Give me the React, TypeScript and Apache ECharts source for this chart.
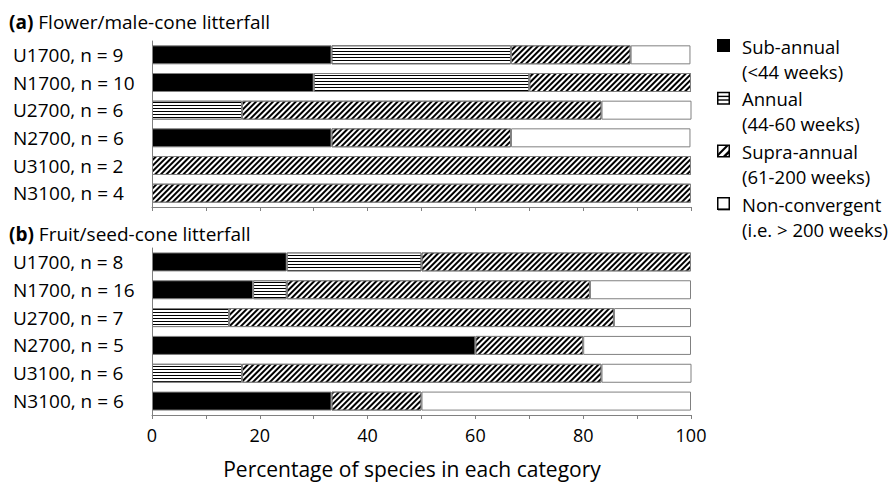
import React, { useEffect, useRef } from 'react';
import * as echarts from 'echarts';

const categoriesA = ['U1700, n = 9', 'N1700, n = 10', 'U2700, n = 6', 'N2700, n = 6', 'U3100, n = 2', 'N3100, n = 4'];
const categoriesB = ['U1700, n = 8', 'N1700, n = 16', 'U2700, n = 7', 'N2700, n = 5', 'U3100, n = 6', 'N3100, n = 6'];
const seriesNames = ['Sub-annual', 'Annual', 'Supra-annual', 'Non-convergent'];
const legendSub = ['(<44 weeks)', '(44-60 weeks)', '(61-200 weeks)', '(i.e. > 200 weeks)'];
const subA = [33.3, 30, 0, 33.3, 0, 0];
const annA = [33.3, 40, 16.7, 0, 0, 0];
const supA = [22.2, 30, 66.7, 33.3, 100, 100];
const nonA = [11.1, 0, 16.7, 33.3, 0, 0];
const subB = [25, 18.75, 0, 60, 0, 33.3];
const annB = [25, 6.25, 14.3, 0, 16.7, 0];
const supB = [50, 56.25, 71.4, 20, 66.7, 16.7];
const nonB = [0, 18.75, 14.3, 20, 16.7, 50];
const xTickLabels = [0, 20, 40, 60, 80, 100];
const titleA = 'Flower/male-cone litterfall';
const titleB = 'Fruit/seed-cone litterfall';
const xTitle = 'Percentage of species in each category';

const FONT = 'Open Sans';
const BORDER = '#808080';

const styles = [
  { color: '#000' },
  {
    color: '#fff',
    decal: { symbol: 'rect', symbolSize: 1, dashArrayX: [1, 0], dashArrayY: [1, 1.3], rotation: 0, color: '#000' },
  },
  {
    color: '#fff',
    decal: { symbol: 'rect', symbolSize: 1, dashArrayX: [1, 0], dashArrayY: [1.4, 1.7], rotation: -Math.PI / 4, color: '#000' },
  },
  { color: '#fff' },
];

export default function App() {
  const ref = useRef<HTMLDivElement>(null);
  useEffect(() => {
    if (!ref.current) return;
    const chart = echarts.init(ref.current, undefined, { renderer: 'svg' });
    const dataA = [subA, annA, supA, nonA];
    const dataB = [subB, annB, supB, nonB];
    const mk = (arr: number[][], idx: number, stack: string) =>
      arr.map((d, i) => ({
        name: seriesNames[i],
        type: 'bar',
        stack,
        xAxisIndex: idx,
        yAxisIndex: idx,
        barWidth: 19,
        data: d.map((v) => (v === 0 ? null : v)),
        itemStyle: { ...styles[i], borderColor: BORDER, borderWidth: 1 },
      }));

    const legendGraphics: any[] = [];
    const lx = 717;
    const ly0 = 39;
    const dy = 52.7;
    for (let i = 0; i < 4; i++) {
      const y = ly0 + i * dy;
      const children: any[] = [];
      const s = 13;
      if (i === 0) {
        children.push({ type: 'rect', shape: { x: 0, y: 0, width: s, height: s }, style: { fill: '#000' } });
      } else if (i === 1) {
        children.push({ type: 'rect', shape: { x: 0.75, y: 0.75, width: s - 1.5, height: s - 1.5 }, style: { fill: '#fff', stroke: '#000', lineWidth: 1.5 } });
        children.push({ type: 'line', shape: { x1: 1, y1: 4.7, x2: s - 1, y2: 4.7 }, style: { stroke: '#000', lineWidth: 1.4 } });
        children.push({ type: 'line', shape: { x1: 1, y1: 8.3, x2: s - 1, y2: 8.3 }, style: { stroke: '#000', lineWidth: 1.4 } });
      } else if (i === 2) {
        children.push({ type: 'rect', shape: { x: 0.75, y: 0.75, width: s - 1.5, height: s - 1.5 }, style: { fill: '#fff', stroke: '#000', lineWidth: 1.5 } });
        children.push({ type: 'polygon', shape: { points: [[1, 9], [9, 1], [12, 1], [1, 12]] }, style: { fill: '#000' } });
        children.push({ type: 'polygon', shape: { points: [[12, 5.5], [12, 9], [9, 12], [5.5, 12]] }, style: { fill: '#000' } });
      } else {
        children.push({ type: 'rect', shape: { x: 0.75, y: 0.75, width: s - 1.5, height: s - 1.5 }, style: { fill: '#fff', stroke: '#000', lineWidth: 1.5 } });
        children.push({ type: 'line', shape: { x1: 1, y1: s - 0.5, x2: s, y2: s - 0.5 }, style: { stroke: '#000', lineWidth: 1.5 } });
      }
      children.push({
        type: 'text',
        x: 25,
        y: 7,
        style: { text: seriesNames[i], fontFamily: FONT, fontSize: 18.5, lineHeight: 22, fill: '#000', textVerticalAlign: 'middle' },
      });
      children.push({
        type: 'text',
        x: 25,
        y: 32,
        style: { text: legendSub[i], fontFamily: FONT, fontSize: 18.5, lineHeight: 22, fill: '#000', textVerticalAlign: 'middle' },
      });
      legendGraphics.push({ type: 'group', x: lx, y, children });
    }

    const titleGraphic = (y: number, tag: string, txt: string) => ({
      type: 'text',
      x: 9,
      y,
      style: {
        text: `{b|${tag}} ${txt}`,
        rich: {
          b: { fontFamily: FONT, fontSize: 19, fontWeight: 'bold', fill: '#000' },
        },
        fontFamily: FONT,
        fontSize: 19,
        fill: '#000',
        textVerticalAlign: 'middle',
      },
    });

    const yAxisCommon = {
      type: 'category',
      inverse: true,
      axisTick: { show: false },
      axisLine: { lineStyle: { color: BORDER, width: 1 } },
      axisLabel: { color: '#000', fontFamily: FONT, fontSize: 19, margin: 139, align: 'left' },
    };
    const xAxisCommon = {
      type: 'value',
      min: 0,
      max: 100,
      interval: 10,
      splitLine: { show: false },
      axisLine: { show: true, lineStyle: { color: BORDER, width: 1 } },
      axisTick: { show: true, length: 4, lineStyle: { color: BORDER } },
    };

    chart.setOption({
      animation: false,
      backgroundColor: '#fff',
      grid: [
        { left: 152, right: 202, top: 41, height: 166 },
        { left: 152, right: 202, top: 248, height: 167 },
      ],
      xAxis: [
        { ...xAxisCommon, gridIndex: 0, axisLabel: { show: false } },
        {
          ...xAxisCommon,
          gridIndex: 1,
          axisLabel: {
            color: '#000',
            fontFamily: FONT,
            fontSize: 18,
            margin: 11,
            formatter: (v: number) => (xTickLabels.includes(v) ? String(v) : ''),
          },
        },
      ],
      yAxis: [
        { ...yAxisCommon, gridIndex: 0, data: categoriesA },
        { ...yAxisCommon, gridIndex: 1, data: categoriesB },
      ],
      series: [...mk(dataA, 0, 'a'), ...mk(dataB, 1, 'b')],
      graphic: [
        titleGraphic(22, '(a)', titleA),
        titleGraphic(234, '(b)', titleB),
        {
          type: 'text',
          x: 412,
          y: 469,
          style: {
            text: xTitle,
            fontFamily: FONT,
            fontSize: 21,
            lineHeight: 24,
            fill: '#000',
            textAlign: 'center',
            textVerticalAlign: 'middle',
          },
        },
        ...legendGraphics,
      ],
    } as any);
    return () => chart.dispose();
  }, []);
  return <div ref={ref} style={{ width: 893, height: 483, position: 'absolute', left: 0, top: 0 }} />;
}
